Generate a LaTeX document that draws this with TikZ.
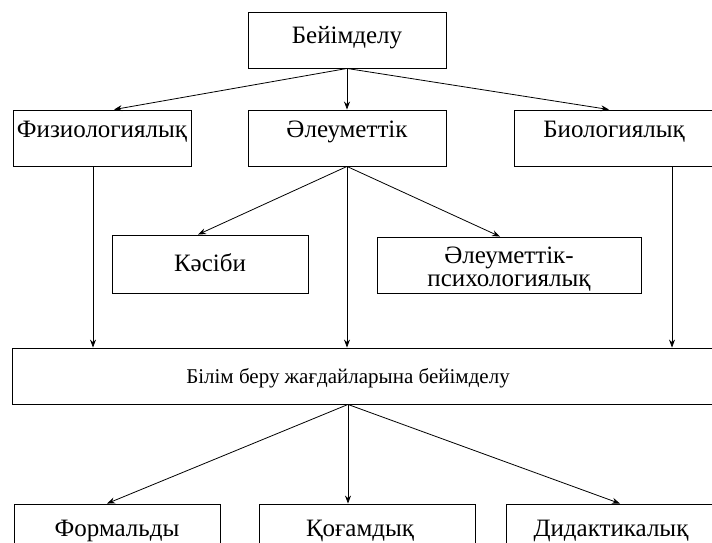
\documentclass[tikz,border=0pt]{standalone}
\usepackage{fontspec}
\setmainfont{Liberation Serif}
\usetikzlibrary{arrows.meta}
\begin{document}
\begin{tikzpicture}[x=1pt,y=-1pt,
  box/.style={draw, line width=0.9pt, inner sep=0pt},
  lbl/.style={anchor=base, inner sep=0pt, font=\fontsize{25}{23}\selectfont},
  lblsmall/.style={anchor=base, inner sep=0pt, font=\fontsize{21}{24}\selectfont},
  arr/.style={-{Stealth[length=8pt,width=6pt]}, line width=0.8pt}]
\useasboundingbox (0,0) rectangle (712,542);
\fill[white] (0,0) rectangle (712,542);
\clip (0,0) rectangle (712,542);
% boxes
\node[box, minimum width=198pt, minimum height=56pt] (top) at (347,40) {};
\node[box, minimum width=178pt, minimum height=56pt] (phys) at (102,138) {};
\node[box, minimum width=198pt, minimum height=56pt] (soc) at (347,138) {};
\node[box, minimum width=200pt, minimum height=56pt] (bio) at (614,138) {};
\node[box, minimum width=196pt, minimum height=58pt] (kas) at (210,264) {};
\node[box, minimum width=264pt, minimum height=56pt] (sp) at (509,265) {};
\node[box, minimum width=702pt, minimum height=56pt] (bil) at (363,376) {};
\node[box, minimum width=206pt, minimum height=56pt] (f) at (117,532) {};
\node[box, minimum width=216pt, minimum height=56pt] (q) at (367,532) {};
\node[box, minimum width=210pt, minimum height=56pt] (d) at (611,532) {};
% texts
\node[lbl] (topT) at ([yshift=-3pt]top.center) {Бейімделу};
\node[lbl] (physT) at ([yshift=1pt]phys.center) {Физиологиялық};
\node[lbl] (socT) at ([yshift=1pt]soc.center) {Әлеуметтік};
\node[lbl] (bioT) at ([yshift=1pt]bio.center) {Биологиялық};
\node[lbl] (kasT) at ([yshift=-7pt]kas.center) {Кәсіби};
\node[lbl, anchor=center, align=center] (spT) at ([yshift=-4pt]sp.center) {Әлеуметтік-\\психологиялық};
\node[lblsmall] (bilT) at ([yshift=-7pt,xshift=-15pt]bil.center) {Білім беру жағдайларына бейімделу};
\node[lbl] (fT) at ([yshift=-4pt]f.center) {Формальды};
\node[lbl] (qT) at ([yshift=-4pt,xshift=-7pt]q.center) {Қоғамдық};
\node[lbl] (dT) at ([yshift=-4pt]d.center) {Дидактикалық};
% connectors
\draw[arr] (top.south) -- ([xshift=12pt]phys.north);
\draw[arr] (top.south) -- (soc.north);
\draw[arr] (top.south) -- ([xshift=-5pt]bio.north);
\draw[arr] (soc.south) -- ([xshift=-12pt]kas.north);
\draw[arr] (soc.south) -- ([xshift=-9pt]sp.north);
\draw[arr] (soc.south) -- (soc.south |- bil.north);
\draw[arr] ([xshift=-9pt]phys.south) -- ([xshift=-9pt]phys.south |- bil.north);
\draw[arr] ([xshift=58pt]bio.south) -- ([xshift=58pt]bio.south |- bil.north);
\draw[arr] ([xshift=-15pt]bil.south) -- ([xshift=-10pt]f.north);
\draw[arr] ([xshift=-15pt]bil.south) -- ([xshift=-19pt]q.north);
\draw[arr] ([xshift=-15pt]bil.south) -- ([xshift=9pt]d.north);
\end{tikzpicture}
\end{document}
